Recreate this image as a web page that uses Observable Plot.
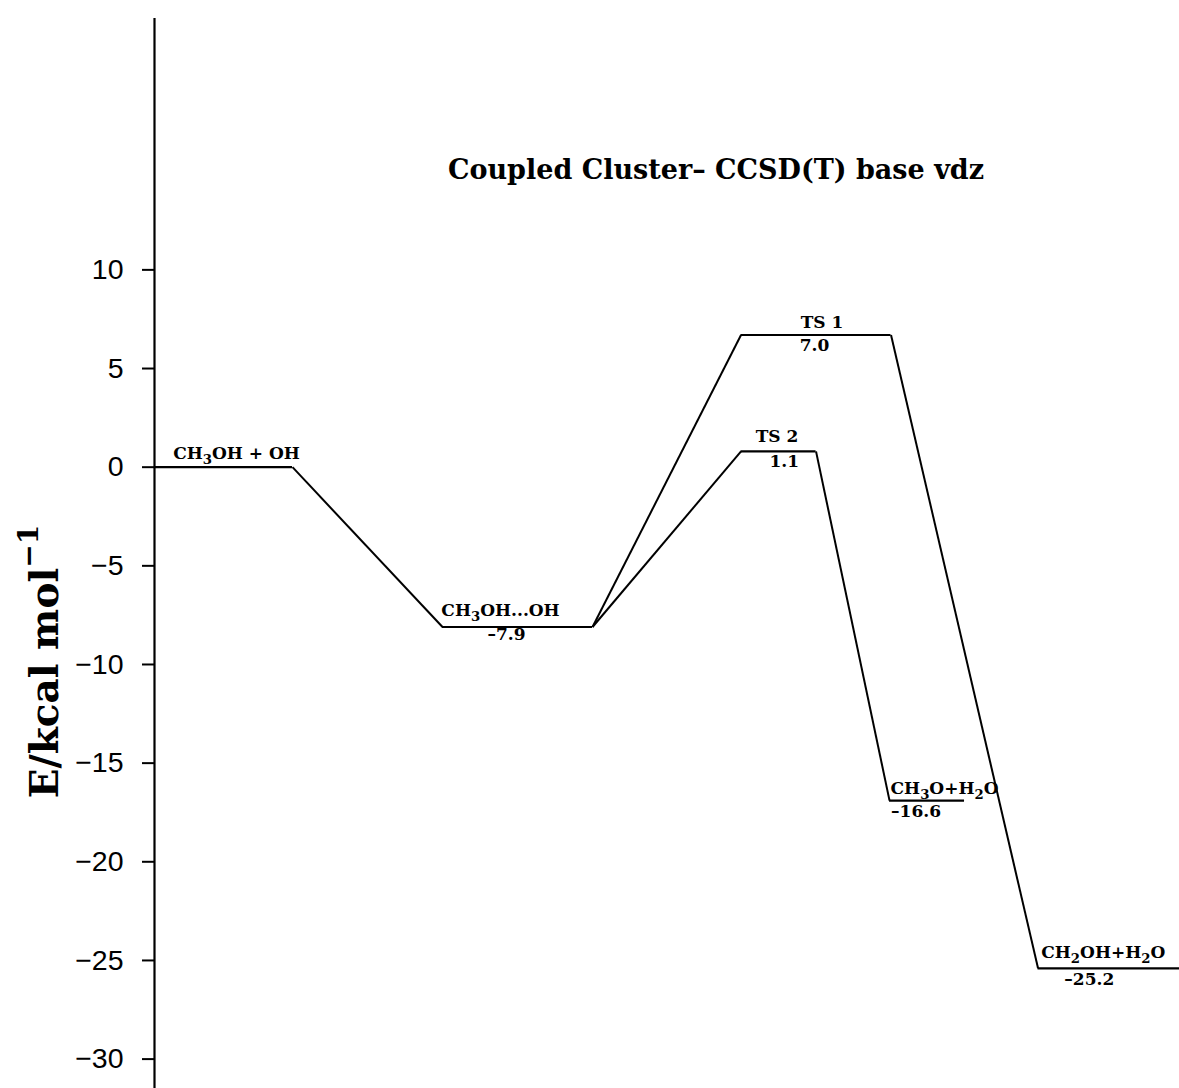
<!DOCTYPE html>
<html><head><meta charset="utf-8">
<script src="https://cdn.jsdelivr.net/npm/d3@7"></script>
<script src="https://cdn.jsdelivr.net/npm/@observablehq/plot@0.6"></script>
<style>html,body{margin:0;padding:0;background:#fff} svg{display:block}</style>
</head><body><div id="chart"></div>
<script>
// ---- data ----
const states = ["R", "INT", "TS1", "TS2", "P1", "P2"];
const names = ["CH₃OH + OH", "CH₃OH...OH", "TS 1", "TS 2", "CH₃O+H₂O", "CH₂OH+H₂O"];
const energies = [0, -8.1, 6.7, 0.8, -16.9, -25.4];           // drawn level heights (kcal/mol)
const valueLabels = ["", "–7.9", "7.0", "1.1", "–16.6", "–25.2"]; // printed values
const xStart = [0, 1.92, 3.91, 3.91, 4.90, 5.89];              // reaction coordinate, level start
const xEnd = [0.92, 2.92, 4.91, 4.41, 5.40, 6.833];            // reaction coordinate, level end
const connections = [["R", "INT"], ["INT", "TS1"], ["INT", "TS2"], ["TS1", "P2"], ["TS2", "P1"]];
const yTicks = [10, 5, 0, -5, -10, -15, -20, -25, -30];
const yDomain = [-31.49, 22.74];
const xDomain = [0, 6.833];
const title = "Coupled Cluster– CCSD(T) base vdz";
const yLabel = "E/kcal mol⁻¹";

// ---- derived tables ----
const levels = states.map((id, i) => ({
  id, name: names[i], e: energies[i], value: valueLabels[i],
  x1: xStart[i], x2: xEnd[i], mid: (xStart[i] + xEnd[i]) / 2
}));
const byId = Object.fromEntries(levels.map(d => [d.id, d]));
const links = connections.map(([a, b]) => ({x1: byId[a].x2, y1: byId[a].e, x2: byId[b].x1, y2: byId[b].e}));

// label pixel offsets (style)
const nameOffsets = {R: [13, -8], INT: [-17, -11], TS1: [6, -7], TS2: [-1.5, -9], P1: [17.5, -7], P2: [-5.5, -10]};
const valueOffsets = {INT: [-11, 13], TS1: [-1.5, 16], TS2: [5.7, 16], P1: [-11, 16], P2: [-19.5, 17]};

const serif = "'DejaVu Serif', serif";
const labelSize = 17;

const nameMarks = levels.map(d => Plot.text([d], {
  x: "mid", y: "e", text: "name", dx: nameOffsets[d.id][0], dy: nameOffsets[d.id][1],
  lineAnchor: "bottom", textAnchor: "middle", fontSize: labelSize, fontWeight: "bold", fontFamily: serif, fill: "black"
}));
const valueMarks = levels.filter(d => d.value).map(d => Plot.text([d], {
  x: "mid", y: "e", text: "value", dx: valueOffsets[d.id][0], dy: valueOffsets[d.id][1],
  lineAnchor: "bottom", textAnchor: "middle", fontSize: labelSize, fontWeight: "bold", fontFamily: serif, fill: "black"
}));

const chart = Plot.plot({
  width: 1179, height: 1088,
  marginLeft: 154, marginRight: 0, marginTop: 18, marginBottom: 0,
  style: {background: "white", fontFamily: serif, color: "black"},
  x: {domain: xDomain, axis: null},
  y: {domain: yDomain, ticks: yTicks},
  marks: [
    Plot.axisY({ticks: yTicks, tickSize: 12, tickPadding: 19, fontSize: 28.5, fontFamily: "'Liberation Sans', Arial, sans-serif",
      strokeWidth: 2, label: null, stroke: "black", fill: "black"}),
    Plot.ruleX([xDomain[0]], {y1: yDomain[0], y2: yDomain[1], strokeWidth: 2.2, stroke: "black"}),
    Plot.ruleY(levels, {x1: "x1", x2: "x2", y: "e", strokeWidth: 2.2, stroke: "black"}),
    Plot.link(links, {x1: "x1", y1: "y1", x2: "x2", y2: "y2", strokeWidth: 2, stroke: "black"}),
    ...nameMarks,
    ...valueMarks,
    Plot.text([title], {frameAnchor: "top", dx: 49, dy: 160, lineAnchor: "bottom", fontSize: 27, fontWeight: "bold", fontFamily: serif, fill: "black"}),
    Plot.text([yLabel], {frameAnchor: "left", rotate: -90, dx: -97, dy: 108, lineAnchor: "bottom", textAnchor: "middle",
      fontSize: 39, fontWeight: "bold", fontFamily: serif, fill: "black"})
  ]
});
document.getElementById("chart").appendChild(chart);

// render chemical subscripts / superscripts as real shifted tspans
const subChars = "₀₁₂₃₄₅₆₇₈₉", supChars = {"⁻": "−", "¹": "1", "²": "2", "³": "3"};
chart.querySelectorAll("text").forEach(t => {
  const s = t.textContent;
  if (![...s].some(c => subChars.includes(c) || supChars[c])) return;
  const fs = parseFloat(getComputedStyle(t).fontSize);
  const runs = [];
  for (const c of s) {
    const type = subChars.includes(c) ? "sub" : supChars[c] ? "sup" : "n";
    const ch = type === "sub" ? String(subChars.indexOf(c)) : type === "sup" ? supChars[c] : c;
    if (runs.length && runs[runs.length - 1].type === type) runs[runs.length - 1].text += ch;
    else runs.push({type, text: ch});
  }
  t.textContent = "";
  let shift = 0;
  for (const r of runs) {
    const ts = document.createElementNS("http://www.w3.org/2000/svg", "tspan");
    let target = 0;
    if (r.type === "sub") { target = fs * 0.3; ts.setAttribute("font-size", fs * 0.78); }
    if (r.type === "sup") { target = -fs * 0.5; ts.setAttribute("font-size", fs * 0.72); }
    ts.setAttribute("dy", target - shift);
    shift = target;
    ts.textContent = r.text;
    t.appendChild(ts);
  }
});
</script></body></html>
